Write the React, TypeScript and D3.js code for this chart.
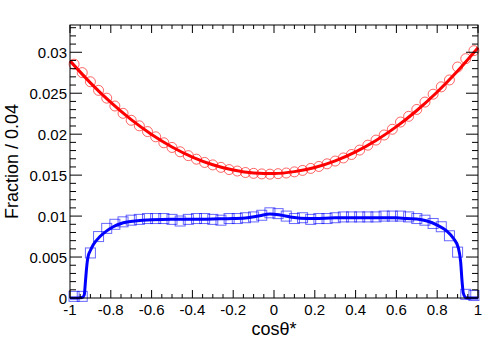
import React from "react";
import * as d3 from "d3";

// bin centres (bin width 0.04)
const binCentres = [
  -0.98, -0.94, -0.9, -0.86, -0.82, -0.78, -0.74, -0.7, -0.66, -0.62,
  -0.58, -0.54, -0.5, -0.46, -0.42, -0.38, -0.34, -0.3, -0.26, -0.22,
  -0.18, -0.14, -0.1, -0.06, -0.02, 0.02, 0.06, 0.1, 0.14, 0.18,
  0.22, 0.26, 0.3, 0.34, 0.38, 0.42, 0.46, 0.5, 0.54, 0.58,
  0.62, 0.66, 0.7, 0.74, 0.78, 0.82, 0.86, 0.9, 0.94, 0.98,
];

// red circles
const redPoints = [
  0.02855, 0.02752, 0.0264, 0.02535, 0.0244, 0.02344, 0.02255, 0.0217, 0.02102, 0.02032,
  0.01968, 0.01895, 0.01838, 0.01785, 0.01738, 0.01695, 0.01655, 0.01625, 0.01595, 0.01568,
  0.0155, 0.01532, 0.01522, 0.01515, 0.01512, 0.01518, 0.01526, 0.0154, 0.01558, 0.01582,
  0.01606, 0.01638, 0.01672, 0.0171, 0.01752, 0.01806, 0.01866, 0.01928, 0.0199, 0.0206,
  0.02148, 0.02218, 0.02302, 0.02392, 0.02488, 0.02578, 0.02662, 0.0282, 0.02922, 0.0302,
];

// blue squares
const bluePoints = [
  0.0002, 0.0002, 0.0055, 0.0075, 0.0085, 0.009, 0.0093, 0.0095, 0.0096, 0.0097,
  0.0097, 0.0097, 0.0096, 0.0094, 0.0096, 0.0097, 0.0097, 0.0096, 0.0095, 0.0097,
  0.0097, 0.0098, 0.0099, 0.0101, 0.0104, 0.0103, 0.01, 0.0097, 0.0098, 0.0096,
  0.0097, 0.0097, 0.0098, 0.0099, 0.0099, 0.0099, 0.0099, 0.0099, 0.01, 0.01,
  0.01, 0.0099, 0.0097, 0.0095, 0.0091, 0.0087, 0.0076, 0.0056, 0.00045, 0.0003,
];

// red fitted curve
const redCurveX = [
  -1, -0.9, -0.8, -0.7, -0.6, -0.5, -0.4, -0.3, -0.2, -0.1, 0,
  0.1, 0.2, 0.3, 0.4, 0.5, 0.6, 0.7, 0.8, 0.9, 1,
];
const redCurveY = [
  0.02895, 0.02627, 0.02387, 0.02177, 0.01996, 0.01844, 0.01721, 0.01627, 0.01562, 0.01527, 0.0152,
  0.01543, 0.01594, 0.01675, 0.01785, 0.01924, 0.02092, 0.02289, 0.02515, 0.02771, 0.03055,
];

// blue fitted curve
const blueCurveX = [
  -1, -0.96, -0.94, -0.93, -0.925, -0.92, -0.915, -0.91, -0.9, -0.886, -0.853, -0.82, -0.788,
  -0.749, -0.683, -0.6, -0.5, -0.4, -0.3, -0.2, -0.13, -0.07, -0.02, 0.03, 0.08, 0.13, 0.2,
  0.3, 0.4, 0.5, 0.6, 0.65, 0.7, 0.75, 0.8, 0.846, 0.879, 0.904, 0.915, 0.922, 0.928, 0.941,
  0.96, 1,
];
const blueCurveY = [
  0, 0, 0.00005, 0.0004, 0.0018, 0.0033, 0.0045, 0.0052, 0.0058, 0.0065, 0.0075, 0.0082, 0.0087,
  0.0091, 0.0094, 0.00956, 0.0096, 0.0096, 0.00965, 0.0097, 0.0098, 0.01005, 0.01026, 0.01013, 0.0099, 0.00975, 0.0097,
  0.0098, 0.0098, 0.0098, 0.0098, 0.0097, 0.00965, 0.0094, 0.0089, 0.0082, 0.0073, 0.0061, 0.0044, 0.002, 0.0006, 0.00004,
  0, 0,
];

const W = 498;
const H = 343;
const plot = { left: 70, right: 478, top: 25, bottom: 298 };
const font = "'Liberation Sans', Arial, Helvetica, sans-serif";

const App = () => {
  const x = d3.scaleLinear().domain([-1, 1]).range([plot.left, plot.right]);
  const y = d3.scaleLinear().domain([0, 0.03333]).range([plot.bottom, plot.top]);

  const xMajor = x.ticks(10);
  const xMinor = x.ticks(40).filter((t) => !xMajor.some((m) => Math.abs(m - t) < 1e-9));
  const yMajor = y.ticks(7);
  const yMinor = y.ticks(30).filter((t) => !yMajor.some((m) => Math.abs(m - t) < 1e-9));

  const fmtX = (d: number) => {
    const v = Math.round(d * 10) / 10;
    return v === 0 ? "0" : String(v);
  };
  const fmtY = (d: number) => {
    const v = Math.round(d * 1000) / 1000;
    return v === 0 ? "0" : String(v);
  };

  const line = d3
    .line<[number, number]>()
    .x((d) => x(d[0]))
    .y((d) => y(d[1]))
    .curve(d3.curveMonotoneX);

  const redPath = line(redCurveX.map((v, i) => [v, redCurveY[i]]));
  const bluePath = line(blueCurveX.map((v, i) => [v, blueCurveY[i]]));

  return (
    <svg
      width={W}
      height={H}
      style={{ position: "absolute", left: 0, top: 0, background: "white" }}
    >
      {/* markers */}
      {binCentres.map((c, i) => (
        <circle
          key={"r" + i}
          cx={x(c)}
          cy={y(redPoints[i])}
          r={5}
          fill="none"
          stroke="#ff0000"
          strokeOpacity={0.6}
          strokeWidth={1}
        />
      ))}
      {binCentres.map((c, i) => (
        <rect
          key={"b" + i}
          x={x(c) - 5}
          y={y(bluePoints[i]) - 5}
          width={10}
          height={10}
          fill="none"
          stroke="#0000ff"
          strokeOpacity={0.6}
          strokeWidth={1}
        />
      ))}

      {/* curves */}
      <path d={redPath || ""} fill="none" stroke="#ff0000" strokeWidth={3} />
      <path d={bluePath || ""} fill="none" stroke="#0000ff" strokeWidth={3} />

      {/* frame */}
      <rect
        x={plot.left}
        y={plot.top}
        width={plot.right - plot.left}
        height={plot.bottom - plot.top}
        fill="none"
        stroke="black"
        strokeWidth={1}
      />

      {/* x ticks bottom & top */}
      <g stroke="black" strokeWidth={1}>
        {xMajor.map((t) => (
          <g key={"xm" + t}>
            <line x1={x(t)} x2={x(t)} y1={plot.bottom} y2={plot.bottom - 8} />
            <line x1={x(t)} x2={x(t)} y1={plot.top} y2={plot.top + 8} />
          </g>
        ))}
        {xMinor.map((t) => (
          <g key={"xn" + t}>
            <line x1={x(t)} x2={x(t)} y1={plot.bottom} y2={plot.bottom - 4} />
            <line x1={x(t)} x2={x(t)} y1={plot.top} y2={plot.top + 4} />
          </g>
        ))}
        {yMajor.map((t) => (
          <g key={"ym" + t}>
            <line x1={plot.left} x2={plot.left + 12} y1={y(t)} y2={y(t)} />
            <line x1={plot.right} x2={plot.right - 12} y1={y(t)} y2={y(t)} />
          </g>
        ))}
        {yMinor.map((t) => (
          <g key={"yn" + t}>
            <line x1={plot.left} x2={plot.left + 6} y1={y(t)} y2={y(t)} />
            <line x1={plot.right} x2={plot.right - 6} y1={y(t)} y2={y(t)} />
          </g>
        ))}
      </g>

      {/* tick labels */}
      <g fontFamily={font} fontSize={15} fill="black">
        {xMajor.map((t) => (
          <text key={"xl" + t} x={x(t)} y={315} textAnchor="middle">
            {fmtX(t)}
          </text>
        ))}
        {yMajor.map((t) => (
          <text key={"yl" + t} x={67} y={y(t) + 6} textAnchor="end">
            {fmtY(t)}
          </text>
        ))}
      </g>

      {/* axis titles */}
      <text
        x={(plot.left + plot.right) / 2}
        y={335}
        textAnchor="middle"
        fontFamily={font}
        fontSize={18}
      >
        cosθ*
      </text>
      <text
        transform={`translate(18,${(plot.top + plot.bottom) / 2}) rotate(-90)`}
        textAnchor="middle"
        fontFamily={font}
        fontSize={18}
      >
        Fraction / 0.04
      </text>
    </svg>
  );
};

export default App;
